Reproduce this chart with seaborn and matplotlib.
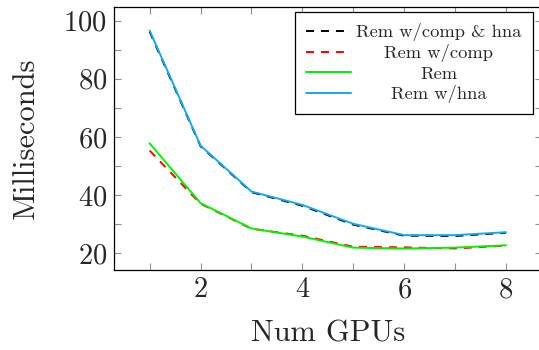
import matplotlib
matplotlib.use("Agg")
import matplotlib.pyplot as plt
import matplotlib.transforms as mtransforms
import seaborn as sns
import pandas as pd
from matplotlib.ticker import MultipleLocator
from matplotlib.lines import Line2D

gpus = [1, 2, 3, 4, 5, 6, 7, 8]
rem_comp_hna = [96.2, 56.8, 41.0, 36.3, 29.8, 26.0, 25.9, 27.0]
rem_comp = [55.3, 37.0, 28.4, 26.0, 22.2, 22.0, 21.6, 22.6]
rem = [57.8, 37.2, 28.5, 25.7, 21.9, 21.6, 21.9, 22.7]
rem_hna = [96.6, 57.0, 41.2, 36.6, 30.1, 26.2, 26.2, 27.2]
series_names = ["Rem w/comp & hna", "Rem w/comp", "Rem", "Rem w/hna"]

sns.set_style("ticks")
plt.rcParams["font.family"] = ["cmr10", "DejaVu Serif"]
plt.rcParams["axes.formatter.use_mathtext"] = True
plt.rcParams["mathtext.fontset"] = "cm"

df = pd.DataFrame({
    "gpus": gpus * 4,
    "ms": rem_comp_hna + rem_comp + rem + rem_hna,
    "series": sum([[n] * len(gpus) for n in series_names], []),
})

W_PX, H_PX = 539, 350
fig = plt.figure(figsize=(W_PX / 100, H_PX / 100), dpi=100)
ax_l, ax_r, ax_t, ax_b = 114, 541.6, 7, 270
ax = fig.add_axes([ax_l / W_PX, 1 - ax_b / H_PX, (ax_r - ax_l) / W_PX, (ax_b - ax_t) / H_PX])

palette = {"Rem w/comp & hna": "black", "Rem w/comp": "#ff0000",
           "Rem": "#00f000", "Rem w/hna": "#12aaee"}
dash_pat = (4.1, 3.6)
dashes = {"Rem w/comp & hna": dash_pat, "Rem w/comp": dash_pat,
          "Rem": "", "Rem w/hna": ""}
LW = 1.4
sns.lineplot(data=df, x="gpus", y="ms", hue="series", style="series",
             palette=palette, dashes=dashes, hue_order=series_names,
             style_order=series_names, linewidth=LW, ax=ax, legend=False)

ax.set_xlim(0.3, 8.7)
ax.set_ylim(14.2, 104.7)
ax.xaxis.set_major_locator(MultipleLocator(2))
ax.xaxis.set_minor_locator(MultipleLocator(1))
ax.yaxis.set_major_locator(MultipleLocator(20))
ax.yaxis.set_minor_locator(MultipleLocator(10))
for which in ("major", "minor"):
    ax.tick_params(which=which, direction="in", length=4.8, width=0.8,
                   color="#909090", top=True, right=True)
ax.tick_params(which="major", labelsize=20.6, pad=5)
for s in ax.spines.values():
    s.set_color("black")
    s.set_linewidth(0.9)

ax.set_xlabel("Num GPUs", fontsize=21.9, labelpad=11.5)
ax.set_ylabel("Milliseconds", fontsize=21.9, labelpad=17)

handles = []
for n in series_names:
    ls = (0, dash_pat) if dashes[n] else "-"
    handles.append(Line2D([], [], color=palette[n], lw=LW, linestyle=ls))

# legend upper-right corner at (532.7, 12) px
anchor = ((532.7 - ax_l) / (ax_r - ax_l), (ax_b - 12) / (ax_b - ax_t))
leg = ax.legend(handles, series_names, loc="upper right",
                bbox_to_anchor=anchor, borderaxespad=0, fontsize=13.3,
                frameon=True, fancybox=False, framealpha=1, edgecolor="black",
                borderpad=0.6, handlelength=2.4, handletextpad=0.3,
                labelspacing=0.18)
leg.get_frame().set_linewidth(0.9)

fig.canvas.draw()
r = fig.canvas.get_renderer()
texts = leg.get_texts()
widths = [t.get_window_extent(r).width for t in texts]
W = max(widths)
for t, w in zip(texts, widths):
    t.set_transform(t.get_transform() + mtransforms.Affine2D().translate((W - w) / 2, 0))

fig.savefig("out.png", dpi=100)
